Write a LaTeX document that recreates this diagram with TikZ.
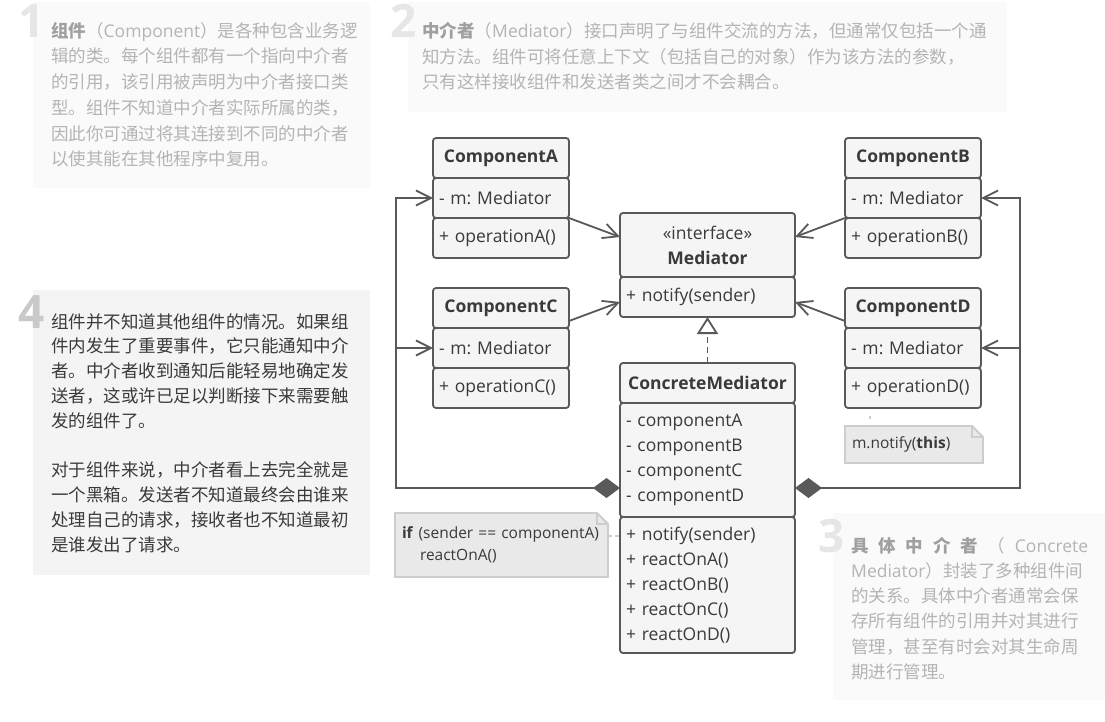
\documentclass[tikz,border=0pt]{standalone}
\usepackage{fontspec}
\setmainfont{Open Sans}
\newfontfamily\cjk{Noto Sans CJK SC}
\newfontfamily\lat{Open Sans}
\frenchspacing
\usetikzlibrary{arrows.meta,backgrounds}
\definecolor{lc}{HTML}{595959}
\definecolor{bx}{HTML}{F5F5F5}
\definecolor{tx}{HTML}{3A3A3A}
\definecolor{fadetx}{HTML}{B4B4B4}
\definecolor{fadebold}{HTML}{A0A0A0}
\definecolor{fadebg}{HTML}{FAFAFA}
\definecolor{hibg}{HTML}{F4F4F4}
\definecolor{numfade}{HTML}{E6E6E6}
\definecolor{numhi}{HTML}{C9C9C9}
\definecolor{notebg}{HTML}{E9E9E9}
\definecolor{noteln}{HTML}{CDCDCD}
\tikzset{
  cell/.style={draw=lc, fill=bx, line width=1.8pt, rounded corners=3pt,
    minimum height=40pt, inner xsep=6pt, inner ysep=0pt, outer sep=0pt,
    anchor=north west, font=\fontsize{17.5}{25}\selectfont, text=tx},
  narrow/.style={cell, text width=124pt},
  wide/.style={cell, text width=163pt},
  fadetext/.style={anchor=base west, inner sep=0pt, text=fadetx,
    font=\cjk\fontsize{17.5}{25}\selectfont},
  hitext/.style={fadetext, text=tx},
  bignum/.style={anchor=base east, inner sep=0pt,
    font=\lat\bfseries\fontsize{46}{46}\selectfont},
  assoc/.style={draw=lc, line width=1.8pt, -{Straight Barb[length=15pt,width=15pt]}},
  compo/.style={draw=lc, line width=1.8pt,
    {Diamond[length=27pt,width=20pt]}-{Straight Barb[length=15pt,width=15pt]}},
  realz/.style={draw=lc, line width=1.8pt, dash pattern=on 6pt off 4pt,
    -{Triangle[open, fill=white, length=17pt, width=21pt]}},
  notebox/.style={anchor=north west, inner xsep=7pt, inner ysep=0pt, outer sep=0pt,
    align=left, text=tx, font=\fontsize{15.5}{21.5}\selectfont},
  noteshape/.style={draw=noteln, fill=notebg, line width=1.8pt},
  notelink/.style={draw=noteln, line width=1.5pt, dash pattern=on 4pt off 3pt},
}
\begin{document}
\begin{tikzpicture}[x=1pt,y=-1pt]
\useasboundingbox (0,0) rectangle (1105,722);

% ---------- text panels ----------
\begin{scope}[on background layer]
\fill[white] (0,0) rectangle (1105,722);
\fill[fadebg] (33,2) rectangle (370,188);
\fill[fadebg] (408,2) rectangle (1007,112);
\fill[fadebg] (833,513) rectangle (1105,700);
\fill[hibg] (33,290) rectangle (370,575);
\end{scope}

\node[bignum, text=numfade] (num1) at (45,37.3) {1};
\node[bignum, text=numfade] (num2) at (417,37.6) {2};
\node[bignum, text=numfade] (num3) at (845,552.6) {3};
\node[bignum, text=numhi] (num4) at (45,328.1) {4};

\foreach \t [count=\i] in {
  {\textbf{\color{fadebold}组件}（{\lat Component}）是各种包含业务逻},
  {辑的类。每个组件都有一个指向中介者},
  {的引用，该引用被声明为中介者接口类},
  {型。组件不知道中介者实际所属的类，},
  {因此你可通过将其连接到不同的中介者},
  {以使其能在其他程序中复用。}}
  \node[fadetext] (p1l\i) at (51,{37.3+25.7*(\i-1)}) {\t};

\foreach \t [count=\i] in {
  {\textbf{\color{fadebold}中介者}（{\lat Mediator}）接口声明了与组件交流的方法，但通常仅包括一个通},
  {知方法。组件可将任意上下文（包括自己的对象）作为该方法的参数，},
  {只有这样接收组件和发送者类之间才不会耦合。}}
  \node[fadetext] (p2l\i) at (422,{37.6+25.5*(\i-1)}) {\t};

\foreach \t [count=\i] in {
  {\makebox[237pt][s]{\textbf{\color{fadebold}具 体 中 介 者} （ {\lat Concrete}}},
  {{\lat Mediator}）封装了多种组件间},
  {的关系。具体中介者通常会保},
  {存所有组件的引用并对其进行},
  {管理，甚至有时会对其生命周},
  {期进行管理。}}
  \node[fadetext] (p3l\i) at (851,{552.6+25.1*(\i-1)}) {\t};

\foreach \t [count=\i] in {
  {组件并不知道其他组件的情况。如果组},
  {件内发生了重要事件，它只能通知中介},
  {者。中介者收到通知后能轻易地确定发},
  {送者，这或许已足以判断接下来需要触},
  {发的组件了。}}
  \node[hitext] (p4l\i) at (51,{328.1+24.8*(\i-1)}) {\t};
\foreach \t [count=\i] in {
  {对于组件来说，中介者看上去完全就是},
  {一个黑箱。发送者不知道最终会由谁来},
  {处理自己的请求，接收者也不知道最初},
  {是谁发出了请求。}}
  \node[hitext] (p4m\i) at (51,{328.1+24.8*(\i+5)}) {\t};

% ---------- UML classes ----------
\node[narrow, align=center] (caH) at (433,138) {\textbf{ComponentA}};
\node[narrow, align=left]   (caF) at (433,178) {- m: Mediator};
\node[narrow, align=left]   (caM) at (433,218) {+ operationA()};

\node[narrow, align=center] (ccH) at (433,288) {\textbf{ComponentC}};
\node[narrow, align=left]   (ccF) at (433,328) {- m: Mediator};
\node[narrow, align=left]   (ccM) at (433,368) {+ operationC()};

\node[narrow, align=center] (cbH) at (845,138) {\textbf{ComponentB}};
\node[narrow, align=left]   (cbF) at (845,178) {- m: Mediator};
\node[narrow, align=left]   (cbM) at (845,218) {+ operationB()};

\node[narrow, align=center] (cdH) at (845,288) {\textbf{ComponentD}};
\node[narrow, align=left]   (cdF) at (845,328) {- m: Mediator};
\node[narrow, align=left]   (cdM) at (845,368) {+ operationD()};

\node[wide, align=center, minimum height=64pt] (mH) at (620,213) {«interface»\\\textbf{Mediator}};
\node[wide, align=left] (mM) at (620,277) {+ notify(sender)};

\node[wide, align=center] (cmH) at (620,363) {\textbf{ConcreteMediator}};
\node[wide, align=left, minimum height=114pt] (cmF) at (620,403)
  {- componentA\\- componentB\\- componentC\\- componentD};
\node[wide, align=left, minimum height=136pt] (cmM) at (620,517)
  {+ notify(sender)\\+ reactOnA()\\+ reactOnB()\\+ reactOnC()\\+ reactOnD()};

% ---------- notes ----------
\node[notebox, text width=124pt, minimum height=37pt] (n1) at (845,426) {m.notify(\textbf{this})};
\node[notebox, text width=199pt, minimum height=64pt] (n2) at (395,513)
  {\textbf{if} (sender == componentA)\\\hspace*{18pt}reactOnA()};
\begin{scope}[on background layer]
  \foreach \n in {n1,n2}{
    \path[noteshape] (\n.north west) -- ([xshift=-11pt]\n.north east)
      -- ([yshift=-11pt]\n.north east) -- (\n.south east) -- (\n.south west) -- cycle;
    \draw[draw=noteln, line width=1.5pt] ([xshift=-11pt]\n.north east)
      -- ([xshift=-11pt,yshift=-11pt]\n.north east) -- ([yshift=-11pt]\n.north east);
  }
\end{scope}
\draw[notelink] ([yshift=9pt]n2.east) -- ([yshift=9pt]n2.east -| cmM.west);
\draw[draw=noteln, line width=1.5pt, dash pattern=on 0pt off 7pt on 3pt off 20pt]
  ([xshift=25pt]n1.north west) -- ([xshift=25pt]n1.north west |- cdM.south);

% ---------- connectors ----------
\draw[assoc] (caF.south east) -- ([yshift=8pt]mH.west);
\draw[assoc] ([yshift=7pt]ccH.south east) -- ([yshift=-5pt]mM.west);
\draw[assoc] (cbF.south west) -- ([yshift=8pt]mH.east);
\draw[assoc] ([yshift=7pt]cdH.south west) -- ([yshift=-5pt]mM.east);

\draw[realz] (cmH.north) -- (mM.south);

\draw[compo] ([yshift=-85pt]cmF.north west) -- ++(-224,0) coordinate (lcorner) |- (caF.west);
\draw[assoc] (lcorner |- ccF.west) -- (ccF.west);
\draw[compo] ([yshift=-85pt]cmF.north east) -- ++(225,0) coordinate (rcorner) |- (cbF.east);
\draw[assoc] (rcorner |- cdF.east) -- (cdF.east);
\end{tikzpicture}
\end{document}
